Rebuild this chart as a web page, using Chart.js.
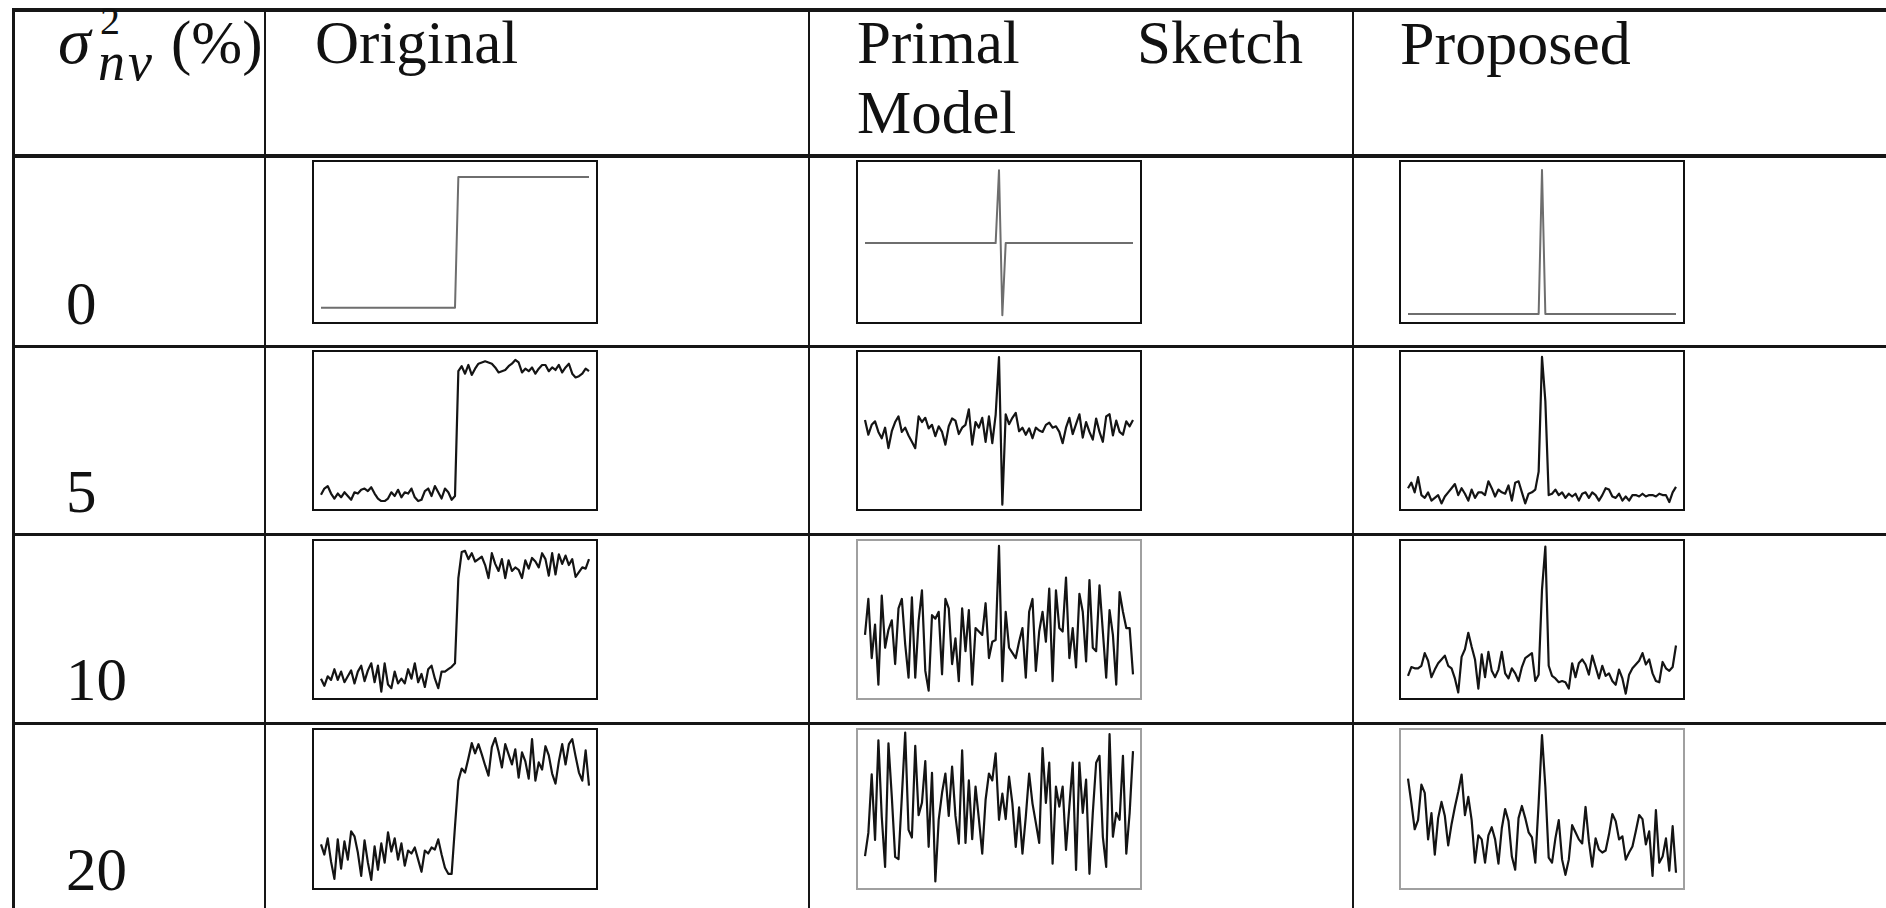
<!DOCTYPE html>
<html lang="en">
<head>
<meta charset="UTF-8">
<title>Noise comparison</title>
<script src="https://cdn.jsdelivr.net/npm/chart.js"></script>
<style>
  html, body { margin: 0; padding: 0; background: #fff; }
  #page { position: relative; width: 1886px; height: 908px; overflow: hidden;
          font-family: "Liberation Serif", "Times New Roman", serif; color: #111; }
  .line { position: absolute; background: #161616; }
  .txt { position: absolute; font-size: 61px; line-height: 1; white-space: nowrap; }
  .box { position: absolute; box-sizing: border-box; border: 2.5px solid #111; }
  .box.light { border: 2px solid #a0a0a0; }
  canvas.mini { position: absolute; }
</style>
</head>
<body>
<div id="page">
  <!-- table rules -->
  <div class="line" style="left:12px; right:0; top:8px; height:4px"></div>
  <div class="line" style="left:12px; right:0; top:154px; height:4px"></div>
  <div class="line" style="left:12px; right:0; top:345px; height:3px"></div>
  <div class="line" style="left:12px; right:0; top:533px; height:3px"></div>
  <div class="line" style="left:12px; right:0; top:722px; height:3px"></div>
  <div class="line" style="left:12px; top:8px; bottom:0; width:3px"></div>
  <div class="line" style="left:264px; top:8px; bottom:0; width:2px"></div>
  <div class="line" style="left:808px; top:8px; bottom:0; width:2px"></div>
  <div class="line" style="left:1352px; top:8px; bottom:0; width:2px"></div>

  <!-- header -->
  <div class="txt" style="left:58px; top:8px; font-size:66px"><i>σ</i></div>
  <div class="txt" style="left:100px; top:1px; font-size:40px">2</div>
  <div class="txt" style="left:98px; top:35px; font-size:54px; letter-spacing:3px"><i>nv</i></div>
  <div class="txt" style="left:171px; top:12px">(%)</div>
  <div class="txt" style="left:315px; top:12px">Original</div>
  <div class="txt" style="left:857px; top:12px">Primal</div>
  <div class="txt" style="right:583px; top:12px">Sketch</div>
  <div class="txt" style="left:857px; top:82px">Model</div>
  <div class="txt" style="left:1400px; top:12px; font-size:62px">Proposed</div>

  <!-- row labels -->
  <div class="txt" style="left:66px; top:273px">0</div>
  <div class="txt" style="left:66px; top:461px">5</div>
  <div class="txt" style="left:66px; top:649px">10</div>
  <div class="txt" style="left:66px; top:839px">20</div>
</div>

<script>
// sample index along each 1-D signal
const samples = [...Array(81).keys()];
const noiseLevels = ["0", "5", "10", "20"];
const methods = ["Original", "Primal Sketch Model", "Proposed"];

// signal values, step / spike height = 100
const original0 = [0,0,0,0,0,0,0,0,0,0, 0,0,0,0,0,0,0,0,0,0, 0,0,0,0,0,0,0,0,0,0, 0,0,0,0,0,0,0,0,0,0,
  0,100,100,100,100,100,100,100,100,100, 100,100,100,100,100,100,100,100,100,100,
  100,100,100,100,100,100,100,100,100,100, 100,100,100,100,100,100,100,100,100,100, 100];
const psm0 = [0,0,0,0,0,0,0,0,0,0, 0,0,0,0,0,0,0,0,0,0, 0,0,0,0,0,0,0,0,0,0, 0,0,0,0,0,0,0,0,0,0,
  100,-99,0,0,0,0,0,0,0,0, 0,0,0,0,0,0,0,0,0,0, 0,0,0,0,0,0,0,0,0,0, 0,0,0,0,0,0,0,0,0,0, 0];
const proposed0 = [0,0,0,0,0,0,0,0,0,0, 0,0,0,0,0,0,0,0,0,0, 0,0,0,0,0,0,0,0,0,0, 0,0,0,0,0,0,0,0,0,0,
  100,0,0,0,0,0,0,0,0,0, 0,0,0,0,0,0,0,0,0,0, 0,0,0,0,0,0,0,0,0,0, 0,0,0,0,0,0,0,0,0,0, 0];

const original5 = [0,5,7,1,-3,1,-2,2,-1,-4, 2,1,4,5,3,6,1,-3,-5,-5, -3,2,-1,4,-2,2,1,5,-2,-5,
  -4,3,5,-1,7,2,-3,5,2,-4, -1,99,103,97,104,96,101,105,106,107, 106,105,102,98,99,100,103,105,108,106,
  98,101,99,102,97,101,104,104,99,102, 100,104,98,102,105,97,94,95,97,101, 99];
const psm5 = [11,-10,4,9,-6,-15,0,-29,-5,8, 16,-6,0,-11,-20,-29,16,8,14,-1, 4,-12,2,-6,-24,2,13,10,-9,0,
  4,26,-24,8,0,14,-20,16,-22,18, 100,-109,19,5,14,21,-5,0,-10,-1, -15,0,-4,-6,4,7,0,2,-6,-22,
  0,14,-9,5,19,-14,8,-6,-17,13, -6,-20,16,19,-11,10,-6,-10,9,2, 11];
const proposed5 = [5,9,2,13,0,-2,2,-4,-2,0, -6,-1,2,5,8,0,5,1,-4,4, -2,2,2,0,10,5,-1,4,2,1,
  7,-4,9,10,2,-6,1,2,4,17, 100,68,0,1,4,0,2,-2,1,-1, 1,-4,1,2,-2,2,0,-4,0,5,
  4,-1,-2,1,-4,-1,-4,0,0,-1, 1,-1,0,0,-1,1,0,0,-5,2, 6];

const original10 = [0,-6,2,-1,8,-1,6,-3,2,7, -4,6,11,-2,7,13,-3,11,-11,13, -5,-8,6,-4,0,-4,8,0,13,-3,
  4,-7,8,11,0,-8,6,6,8,10, 13,85,107,108,101,106,99,101,103,96, 85,106,97,91,101,85,100,91,94,92,
  85,100,93,102,99,94,106,101,87,106, 88,105,97,104,96,101,86,90,94,93, 101];
const psm10 = [-4,38,-31,8,-62,42,-19,2,13,-38, 27,38,-15,-54,40,-54,12,48,-46,-69, 19,15,23,-50,38,27,-38,-8,-58,27,
  -23,25,-62,4,0,-4,33,-31,-12,-10, 100,-58,23,-19,-25,-31,-12,4,-54,23, 38,-46,0,23,-12,50,-58,48,4,0,
  63,-31,4,-42,44,23,-35,60,-19,-23, 54,0,-54,25,-4,-62,46,23,4,4, -50];
const proposed10 = [-3,4,3,3,5,15,9,-4,2,7, 10,13,5,3,-5,-16,12,18,31,20, 10,-13,14,-4,16,1,-4,2,16,-1,
  -5,3,-1,-7,4,11,13,15,-7,-2, 65,99,5,-3,-5,-8,-7,-8,-13,7, -4,7,10,6,-2,13,4,-5,5,-3,
  -1,-7,-10,2,-5,-17,-2,3,6,9, 15,6,10,-1,-7,-8,8,3,1,4, 21];

const original20 = [12,2,18,-5,-22,17,-12,15,-3,25, 20,4,-19,16,-6,-23,10,-13,13,-6, 24,5,18,-3,13,-9,6,3,9,-3,
  -15,6,3,9,7,17,2,-11,-17,-17, 30,75,87,83,97,112,102,111,101,90, 80,108,117,104,88,111,101,91,106,78,
  103,94,77,116,75,93,86,109,100,82, 72,94,111,91,111,116,99,83,75,105, 70];
const psm20 = [-60,-30,46,-39,90,-9,-74,86,17,-61, -64,17,100,-26,-36,83,-7,9,63,-48, 48,-93,-13,22,47,-8,56,-8,-44,77,
  -43,38,-38,30,-12,-57,13,47,38,73, -13,21,-12,43,8,-48,3,-57,-9,47, 8,-17,-43,80,9,61,-70,30,4,30,
  -52,4,61,-78,61,-4,39,-83,-4,61, 70,-35,-74,98,-35,-4,-13,70,-57,-4, 76];
const proposed20 = [57,33,7,16,51,43,-3,23,-18,18, 34,20,-9,12,29,44,61,21,39,16, -26,1,-3,-26,1,9,-3,-27,8,27,
  15,-20,-33,18,30,18,4,-1,-26,33, 100,49,-21,-26,-2,16,-23,-38,-23,11, 4,-3,-7,29,-5,-30,-2,-13,-16,-14,
  2,22,15,-3,0,-23,-16,-10,5,21, 17,-8,5,-39,26,-26,-20,-2,-34,10, -36];

// layout of the table cells
const rowTops = [160, 350, 539, 728];
const rowHeights = [164, 161, 161, 162];
const colLefts = [312, 856, 1399];
const boxWidth = 286;

const cells = [
  { row: 0, col: 0, values: original0, min: -12.5, max: 113, thin: true },
  { row: 0, col: 1, values: psm0, min: -111, max: 114, thin: true },
  { row: 0, col: 2, values: proposed0, min: -7, max: 107, thin: true },
  { row: 1, col: 0, values: original5, min: -13, max: 116 },
  { row: 1, col: 1, values: psm5, min: -118, max: 110 },
  { row: 1, col: 2, values: proposed5, min: -11.5, max: 105 },
  { row: 2, col: 0, values: original10, min: -18, max: 118 },
  { row: 2, col: 1, values: psm10, min: -80, max: 108, light: true },
  { row: 2, col: 2, values: proposed10, min: -22, max: 105 },
  { row: 3, col: 0, values: original20, min: -33, max: 127 },
  { row: 3, col: 1, values: psm20, min: -104, max: 106, light: true },
  { row: 3, col: 2, values: proposed20, min: -53, max: 107, light: true },
];

const page = document.getElementById('page');

cells.forEach(cell => {
  const left = colLefts[cell.col];
  const top = rowTops[cell.row];
  const h = rowHeights[cell.row];

  const canvas = document.createElement('canvas');
  canvas.className = 'mini';
  canvas.width = boxWidth;
  canvas.height = h;
  canvas.style.left = left + 'px';
  canvas.style.top = top + 'px';
  canvas.style.width = boxWidth + 'px';
  canvas.style.height = h + 'px';
  page.appendChild(canvas);

  new Chart(canvas, {
    type: 'line',
    data: {
      labels: samples,
      datasets: [{
        label: methods[cell.col] + ' ' + noiseLevels[cell.row] + '%',
        data: cell.values,
        borderColor: cell.thin ? '#6e6e6e' : '#141414',
        borderWidth: cell.thin ? 2 : 2.2,
        borderJoinStyle: 'round',
        pointRadius: 0,
        tension: 0,
        fill: false,
        clip: false,
      }],
    },
    options: {
      responsive: false,
      animation: false,
      devicePixelRatio: 1,
      events: [],
      layout: { padding: { left: 9, right: 9, top: 0, bottom: 0 } },
      plugins: { legend: { display: false }, tooltip: { enabled: false } },
      scales: {
        x: { display: false },
        y: { display: false, min: cell.min, max: cell.max },
      },
    },
  });

  const box = document.createElement('div');
  box.className = cell.light ? 'box light' : 'box';
  box.style.left = left + 'px';
  box.style.top = top + 'px';
  box.style.width = boxWidth + 'px';
  box.style.height = h + 'px';
  page.appendChild(box);
});
</script>
</body>
</html>
